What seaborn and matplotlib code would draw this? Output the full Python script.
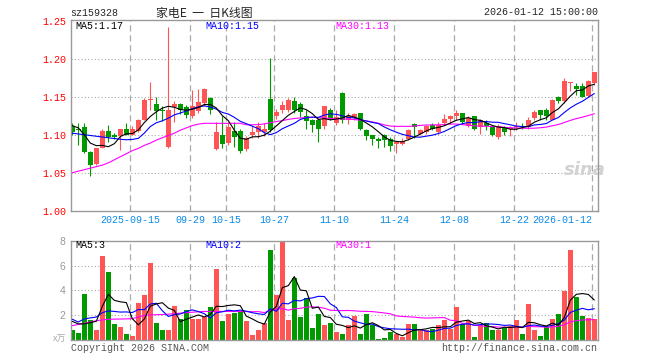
import numpy as np
import pandas as pd
import matplotlib
matplotlib.use("Agg")
import matplotlib.pyplot as plt
import seaborn as sns

code = "sz159328"
title = "家电E  一  日K线图"
stamp = "2026-01-12 15:00:00"

# daily candles, 2025-09-01 .. 2026-01-12 (88 trading days)
opens = [1.112, 1.108, 1.110, 1.077, 1.061, 1.083, 1.105, 1.099, 1.098, 1.107,
         1.100, 1.105, 1.120, 1.146, 1.140, 1.133, 1.084, 1.136, 1.140, 1.137,
         1.124, 1.131, 1.142, 1.148, 1.081, 1.100, 1.089, 1.105, 1.105, 1.081,
         1.100, 1.104, 1.103, 1.147, 1.124, 1.133, 1.133, 1.145, 1.140, 1.124,
         1.120, 1.120, 1.111, 1.133, 1.116, 1.155, 1.119, 1.123, 1.128, 1.106,
         1.099, 1.095, 1.100, 1.095, 1.088, 1.088, 1.095, 1.114, 1.101, 1.104,
         1.113, 1.104, 1.116, 1.121, 1.124, 1.128, 1.111, 1.124, 1.110, 1.115,
         1.112, 1.097, 1.110, 1.107, 1.110, 1.112, 1.110, 1.122, 1.132, 1.132,
         1.120, 1.150, 1.144, 1.168, 1.164, 1.164, 1.151, 1.168]
highs = [1.115, 1.116, 1.115, 1.078, 1.082, 1.108, 1.113, 1.102, 1.108, 1.116,
         1.112, 1.121, 1.148, 1.170, 1.149, 1.138, 1.242, 1.144, 1.142, 1.139,
         1.159, 1.160, 1.161, 1.149, 1.117, 1.124, 1.117, 1.117, 1.107, 1.098,
         1.111, 1.117, 1.115, 1.201, 1.134, 1.145, 1.148, 1.149, 1.143, 1.132,
         1.121, 1.122, 1.138, 1.135, 1.132, 1.156, 1.128, 1.128, 1.129, 1.107,
         1.100, 1.097, 1.101, 1.097, 1.091, 1.096, 1.108, 1.115, 1.108, 1.113,
         1.115, 1.117, 1.127, 1.126, 1.132, 1.128, 1.124, 1.125, 1.121, 1.119,
         1.113, 1.114, 1.111, 1.111, 1.117, 1.115, 1.123, 1.132, 1.133, 1.135,
         1.147, 1.151, 1.175, 1.170, 1.168, 1.168, 1.172, 1.183]
lows = [1.099, 1.086, 1.076, 1.046, 1.060, 1.082, 1.090, 1.094, 1.080, 1.099,
        1.099, 1.104, 1.119, 1.133, 1.120, 1.118, 1.083, 1.117, 1.127, 1.122,
        1.122, 1.128, 1.138, 1.127, 1.080, 1.082, 1.087, 1.084, 1.076, 1.079,
        1.096, 1.096, 1.098, 1.103, 1.121, 1.128, 1.130, 1.129, 1.123, 1.107,
        1.104, 1.091, 1.108, 1.120, 1.113, 1.115, 1.114, 1.119, 1.106, 1.093,
        1.086, 1.082, 1.084, 1.078, 1.076, 1.086, 1.093, 1.096, 1.099, 1.101,
        1.106, 1.101, 1.113, 1.114, 1.119, 1.115, 1.110, 1.106, 1.101, 1.106,
        1.098, 1.095, 1.100, 1.098, 1.106, 1.108, 1.107, 1.120, 1.120, 1.120,
        1.119, 1.142, 1.142, 1.157, 1.152, 1.149, 1.149, 1.166]
closes = [1.103, 1.106, 1.077, 1.060, 1.082, 1.105, 1.097, 1.097, 1.107, 1.100,
          1.107, 1.120, 1.146, 1.147, 1.131, 1.131, 1.132, 1.140, 1.132, 1.126,
          1.138, 1.143, 1.160, 1.132, 1.103, 1.088, 1.110, 1.097, 1.079, 1.096,
          1.104, 1.111, 1.107, 1.106, 1.130, 1.139, 1.146, 1.132, 1.130, 1.118,
          1.113, 1.107, 1.138, 1.122, 1.123, 1.120, 1.124, 1.127, 1.108, 1.098,
          1.095, 1.092, 1.093, 1.085, 1.091, 1.092, 1.106, 1.110, 1.106, 1.111,
          1.108, 1.113, 1.121, 1.124, 1.129, 1.117, 1.122, 1.107, 1.120, 1.112,
          1.100, 1.111, 1.104, 1.109, 1.112, 1.111, 1.120, 1.130, 1.126, 1.124,
          1.146, 1.144, 1.171, 1.169, 1.160, 1.150, 1.171, 1.182]
# volume, unit 万
volumes = [0.81, 0.59, 3.72, 1.62, 0.81, 6.80, 5.45, 1.30, 1.03, 0.49,
           0.32, 2.97, 3.64, 6.20, 1.40, 0.81, 0.81, 2.70, 1.67, 2.38,
           1.67, 1.67, 1.89, 2.65, 5.72, 1.54, 2.10, 2.16, 2.29, 1.54,
           0.40, 0.81, 1.35, 7.29, 3.64, 8.00, 1.62, 5.00, 1.84, 3.37,
           0.97, 2.10, 1.21, 1.40, 0.67, 0.49, 1.21, 1.94, 0.49, 2.10,
           1.21, 0.08, 0.19, 0.67, 0.49, 0.27, 1.30, 1.30, 0.81, 0.81,
           0.86, 1.21, 1.62, 0.86, 2.65, 1.30, 1.57, 0.27, 1.21, 1.35,
           0.81, 0.81, 0.94, 1.13, 1.62, 0.49, 2.91, 0.81, 0.32, 1.08,
           1.67, 2.10, 3.91, 7.29, 3.43, 1.97, 1.75, 1.67]

tick_pos = [10, 20, 26, 34, 44, 54, 64, 74, 87]
tick_labels = ["2025-09-15", "09-29", "10-15", "10-27", "11-10",
               "11-24", "12-08", "12-22", "2026-01-12"]

# moving-average values at the left edge (their windows start before 09-01)
ma5_head = [1.112, 1.109, 1.100, 1.089]
ma10_head = [1.102, 1.101, 1.100, 1.099, 1.098, 1.097, 1.096, 1.095, 1.094]
ma30_head = [1.050, 1.052, 1.054, 1.056, 1.058, 1.060, 1.063, 1.067, 1.071, 1.075,
             1.079, 1.082, 1.086, 1.089, 1.093, 1.096, 1.099, 1.102, 1.106, 1.109,
             1.112, 1.114, 1.115, 1.115, 1.115, 1.115, 1.115, 1.115, 1.115]
vma5_head = [1.50, 1.30, 1.30, 1.40]
vma10_head = [1.67, 1.45, 1.70, 1.78, 1.85, 2.20, 2.35, 2.30, 2.25]
vma30_head = [1.16, 1.25, 1.35, 1.45, 1.55, 1.62, 1.67, 1.68, 1.69, 1.70,
              1.72, 1.85, 1.98, 2.02, 2.04, 2.05, 2.08, 2.12, 2.16, 2.20,
              2.24, 2.27, 2.30, 2.30, 2.30, 2.30, 2.30, 2.30, 2.30]

price_legend = ["MA5:1.17", "MA10:1.15", "MA30:1.13"]
vol_legend = ["MA5:3", "MA10:2", "MA30:1"]

df = pd.DataFrame({"open": opens, "high": highs, "low": lows,
                   "close": closes, "vol": volumes})
df["idx"] = np.arange(len(df))


def moving(s, n, head):
    m = s.rolling(n).mean()
    m.iloc[:len(head)] = head
    return m


for n, ph, vh in [(5, ma5_head, vma5_head), (10, ma10_head, vma10_head),
                  (30, ma30_head, vma30_head)]:
    df[f"ma{n}"] = moving(df["close"], n, ph)
    df[f"vma{n}"] = moving(df["vol"], n, vh)

RED, GREEN = "#ff5555", "#009900"
ma_colors = {"ma5": "#000000", "ma10": "#0000ff", "ma30": "#ff00ff"}
up = df["close"] >= df["open"]
cols = np.where(up, RED, GREEN)

sns.set_style("white")
plt.rcParams["font.family"] = ["Liberation Mono", "Noto Sans CJK SC", "DejaVu Sans"]
MONO = 7.2

W, H = 660, 360
x0, x1 = 70.7, 597.5
fig = plt.figure(figsize=(6.6, 3.6), dpi=100)
ax = fig.add_axes([x0 / W, 1 - 210.7 / H, (x1 - x0) / W, (210.7 - 20) / H])
axv = fig.add_axes([x0 / W, 1 - 340 / H, (x1 - x0) / W, (340 - 240.7) / H])

xlim = (-0.27, 87.53)
# date grid lines sit a third of a slot left of the candle centre
grid_x = [p - 0.33 for p in tick_pos]

# --- price panel ---
for y in [1.05, 1.10, 1.15, 1.20]:
    ax.axhline(y, color="#aaaaaa", lw=0.8, ls=(0, (1, 2)), zorder=0)
for gx in grid_x:
    ax.axvline(gx, color="#aaaaaa", lw=0.9, ls=(0, (5, 3)), zorder=0)

ax.vlines(df["idx"], df["low"], df["high"], colors=cols, lw=0.8, zorder=2)
body = (df["close"] - df["open"]).abs().clip(lower=0.0008)
ax.bar(df["idx"], body, bottom=df[["open", "close"]].min(axis=1), width=0.78,
       color=cols, linewidth=0, zorder=2)

for k in ["ma30", "ma10", "ma5"]:
    sns.lineplot(data=df, x="idx", y=k, ax=ax, color=ma_colors[k], lw=0.8,
                 legend=False, zorder=3)

ax.set_xlim(*xlim)
ax.set_ylim(1.0, 1.251)
yt = [1.00, 1.05, 1.10, 1.15, 1.20, 1.25]
ax.set_yticks(yt, [f"{v:.2f}" for v in yt], color="#ff0000", fontsize=MONO)
ax.set_xticks(grid_x, tick_labels, color="#0a8ae6", fontsize=MONO)
ax.get_xticklabels()[-1].set_ha("right")
ax.tick_params(length=0, pad=3)
ax.set_xlabel("")
ax.set_ylabel("")

for t, xx, c in zip(price_legend, [0.008, 0.255, 0.502], ma_colors.values()):
    ax.text(xx, 0.968, t, transform=ax.transAxes, color=c, fontsize=MONO,
            ha="left", va="center")
ax.text(0.975, 0.215, "sina", transform=ax.transAxes, color="#d2d2d2",
        fontsize=13, fontweight="bold", style="italic", ha="center",
        va="center", family="DejaVu Sans", zorder=1)

# --- volume panel ---
for y in [2, 4, 6]:
    axv.axhline(y, color="#aaaaaa", lw=0.8, ls=(0, (1, 2)), zorder=0)
for gx in grid_x:
    axv.axvline(gx, color="#aaaaaa", lw=0.9, ls=(0, (5, 3)), zorder=0)
axv.bar(df["idx"], df["vol"], width=0.78, color=cols, linewidth=0, zorder=2)
for k in ["vma30", "vma10", "vma5"]:
    sns.lineplot(data=df, x="idx", y=k, ax=axv, color=ma_colors[k[1:]], lw=0.8,
                 legend=False, zorder=3)
axv.set_xlim(*xlim)
axv.set_ylim(0, 8)
axv.set_xticks([])
axv.set_yticks([2, 4, 6, 8], ["2", "4", "6", "8"], color="#999999",
               fontsize=7.5, family="Liberation Sans")
axv.tick_params(length=0, pad=4)
axv.set_xlabel("")
axv.set_ylabel("")
for t, xx, c in zip(vol_legend, [0.008, 0.255, 0.502], ma_colors.values()):
    axv.text(xx, 0.955, t, transform=axv.transAxes, color=c, fontsize=MONO,
             ha="left", va="center")

for a in (ax, axv):
    for s in a.spines.values():
        s.set_color("#999999")
        s.set_linewidth(1.0)

# --- header / footer text ---
fig.text(x0 / W, 1 - 13 / H, code, ha="left", va="center", fontsize=MONO)
fig.text(204 / W, 1 - 13 / H, title, ha="center", va="center", fontsize=8.6,
         family=["Noto Sans CJK SC", "DejaVu Sans"])
fig.text(x1 / W, 1 - 12 / H, stamp, ha="right", va="center", fontsize=MONO)
fig.text(66 / W, 1 - 339 / H, "x万", ha="right", va="center", fontsize=6.5,
         color="#aaaaaa", family=["Noto Sans CJK SC", "DejaVu Sans"])
fig.text(x0 / W, 1 - 348 / H, "Copyright 2026 SINA.COM", ha="left",
         va="center", fontsize=MONO, color="#555555")
fig.text(x1 / W, 1 - 348 / H, "http://finance.sina.com.cn", ha="right",
         va="center", fontsize=MONO, color="#555555")

fig.savefig("out.png", dpi=100, facecolor="white")
